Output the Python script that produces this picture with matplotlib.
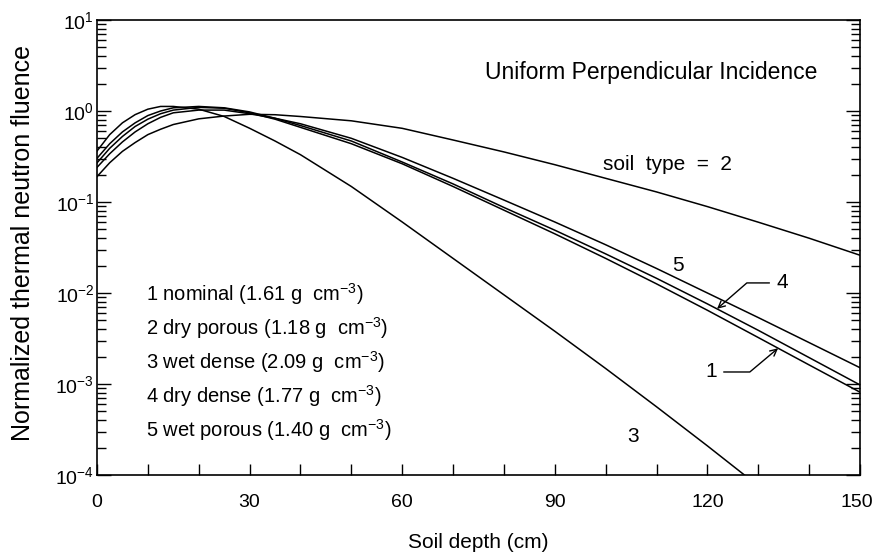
import matplotlib
matplotlib.use("Agg")
import matplotlib.pyplot as plt
from matplotlib.ticker import MultipleLocator, LogLocator, NullFormatter
from matplotlib.transforms import ScaledTranslation

plt.rcParams['font.family'] = ['Liberation Sans', 'DejaVu Sans']
plt.rcParams['mathtext.fontset'] = 'custom'
plt.rcParams['mathtext.rm'] = 'Liberation Sans'
plt.rcParams['mathtext.it'] = 'Liberation Sans'
plt.rcParams['mathtext.bf'] = 'Liberation Sans'

# Soil depth (cm)
depth = [0, 2.5, 5, 7.5, 10, 12.5, 15, 20, 25, 30, 35, 40, 50, 60, 70, 80,
         90, 100, 110, 120, 130, 140, 150]
depth_wet_dense = [0, 2.5, 5, 7.5, 10, 12.5, 15, 20, 25, 30, 35, 40, 50, 60,
                   70, 80, 90, 100, 110, 120, 130]

# Normalized thermal neutron fluence per soil type
fluence_nominal = [0.269, 0.389, 0.525, 0.676, 0.813, 0.933, 1.023, 1.096, 1.072,
                   0.955, 0.813, 0.661, 0.437, 0.263, 0.148, 0.0813, 0.0447,
                   0.0240, 0.0126, 0.00646, 0.00324, 0.00162, 0.000813]
fluence_dry_porous = [0.19, 0.27, 0.36, 0.45, 0.55, 0.63, 0.71, 0.82, 0.88, 0.92,
                      0.91, 0.87, 0.78, 0.645, 0.48, 0.355, 0.257, 0.182, 0.129,
                      0.089, 0.060, 0.040, 0.026]
fluence_wet_dense = [0.363, 0.55, 0.741, 0.912, 1.047, 1.122, 1.122, 1.047, 0.871,
                     0.646, 0.468, 0.331, 0.148, 0.0603, 0.0240, 0.00955, 0.00380,
                     0.00148, 0.000562, 0.000209, 0.0000759]
fluence_dry_dense = [0.302, 0.437, 0.589, 0.741, 0.891, 1.0, 1.084, 1.122, 1.084,
                     0.977, 0.832, 0.692, 0.468, 0.275, 0.158, 0.0871, 0.0490,
                     0.0269, 0.0145, 0.00759, 0.00389, 0.00195, 0.000977]
fluence_wet_porous = [0.240, 0.339, 0.457, 0.589, 0.724, 0.851, 0.955, 1.023, 1.023,
                      0.933, 0.832, 0.724, 0.501, 0.309, 0.182, 0.105, 0.0603,
                      0.0339, 0.0186, 0.0100, 0.00537, 0.00285, 0.00151]

x_ticks = [0, 30, 60, 90, 120, 150]

legend_lines = [
    "1 nominal (1.61 g  cm$^{-3}$)",
    "2 dry porous (1.18 g  cm$^{-3}$)",
    "3 wet dense (2.09 g  cm$^{-3}$)",
    "4 dry dense (1.77 g  cm$^{-3}$)",
    "5 wet porous (1.40 g  cm$^{-3}$)",
]

fig = plt.figure(figsize=(8.73, 5.6), dpi=100)
ax = fig.add_axes([0.1111, 0.1518, 0.874, 0.8125])

line_kw = dict(color='black', lw=1.1)
ax.plot(depth, fluence_nominal, **line_kw)
ax.plot(depth, fluence_dry_porous, **line_kw)
ax.plot(depth_wet_dense, fluence_wet_dense, **line_kw)
ax.plot(depth, fluence_dry_dense, **line_kw)
ax.plot(depth, fluence_wet_porous, **line_kw)

ax.set_yscale('log')
ax.set_xlim(0, 150)
ax.set_ylim(1e-4, 1e1)

ax.set_xticks(x_ticks)
ax.xaxis.set_minor_locator(MultipleLocator(10))
ax.yaxis.set_major_locator(LogLocator(base=10, numticks=10))
ax.yaxis.set_minor_locator(LogLocator(base=10, subs=range(2, 10), numticks=10))
ax.yaxis.set_minor_formatter(NullFormatter())

ax.tick_params(axis='x', which='both', direction='in', length=8, width=1,
               top=False, labelsize=14, pad=14)
ax.tick_params(axis='y', which='major', direction='in', length=10, width=1,
               right=True, labelsize=14, pad=2)
ax.tick_params(axis='y', which='minor', direction='in', length=6.5, width=1,
               right=True)
for s in ax.spines.values():
    s.set_linewidth(1.2)

# nudge the "150" label left so it stays inside the canvas
last_label = ax.xaxis.get_major_ticks(len(x_ticks))[-1].label1
last_label.set_transform(last_label.get_transform()
                         + ScaledTranslation(-3 / 100, 0, fig.dpi_scale_trans))

ax.set_xlabel("Soil depth (cm)", fontsize=15)
ax.set_ylabel("Normalized thermal neutron fluence", fontsize=18)
ax.xaxis.set_label_coords(0.5, -0.148)
ax.yaxis.set_label_coords(-0.097, 0.51)
ax.xaxis.label.set_va('center')
ax.yaxis.label.set_va('center')

ax.text(0.726, 0.884, "Uniform Perpendicular Incidence", transform=ax.transAxes,
        ha='center', va='center', fontsize=16.5)

for i, t in enumerate(legend_lines):
    ax.text(0.064, 0.398 - i * 0.0748, t, transform=ax.transAxes,
            ha='left', va='center', fontsize=14.5)

ax.text(99.5, 0.255, "soil  type  =  2", ha='left', va='center', fontsize=15)
ax.text(114.2, 0.0203, "5", ha='center', va='center', fontsize=15)
ax.text(105.4, 2.62e-4, "3", ha='center', va='center', fontsize=15)

arrow_kw = dict(arrowstyle='->', lw=1, color='black', shrinkA=3, shrinkB=0,
                mutation_scale=12)
ax.annotate("4", xy=(121.9, 6.7e-3), xytext=(134.7, 0.0129),
            ha='center', va='center', fontsize=15,
            arrowprops=dict(connectionstyle='angle,angleA=0,angleB=41,rad=0',
                            **arrow_kw))
ax.annotate("1", xy=(133.9, 2.47e-3), xytext=(120.7, 1.355e-3),
            ha='center', va='center', fontsize=15,
            arrowprops=dict(connectionstyle='angle,angleA=0,angleB=40,rad=0',
                            **arrow_kw))

fig.savefig("out.png", dpi=100)
